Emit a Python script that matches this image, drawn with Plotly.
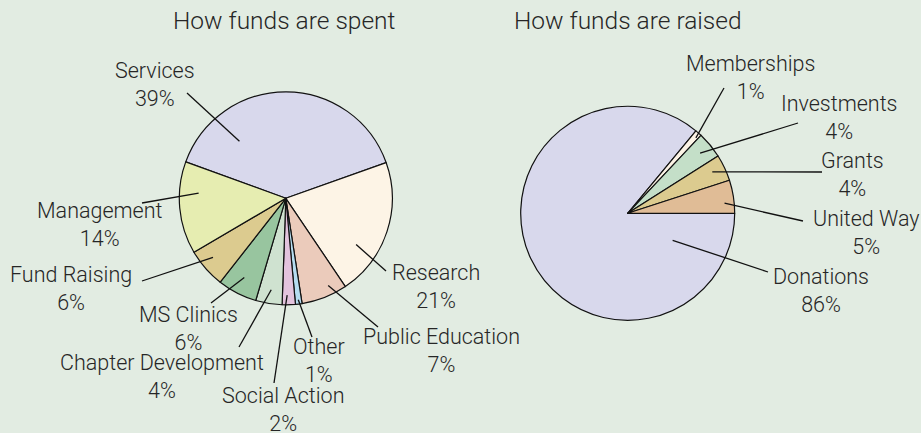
import math
import plotly.graph_objects as go

# ---------------- data ----------------
spent_labels = ["Services", "Research", "Public Education", "Other", "Social Action",
                "Chapter Development", "MS Clinics", "Fund Raising", "Management"]
spent_values = [39, 21, 7, 1, 2, 4, 6, 6, 14]

raised_labels = ["Donations", "Memberships", "Investments", "Grants", "United Way"]
raised_values = [86, 1, 4, 4, 5]

titles = ["How funds are spent", "How funds are raised"]

# ---------------- styles ----------------
spent_colors = ["#d8d8ec", "#fdf4e6", "#ebcbbb", "#b5dcf0", "#e3c3dd",
                "#cfe2d0", "#98c59f", "#dccb8f", "#e6edb1"]
raised_colors = ["#d8d8ec", "#fdf4e6", "#c4dfc8", "#dccb8f", "#e0bc96"]

W, H = 921, 433
BG = "#e2ece2"
TXT = "#262626"
FONT = "Roboto"
FSIZE = 21.5
TSIZE = 24.5

# pie geometry (pixel centre, radius, start angle in standard degrees)
pies = [
    dict(cx=285.8, cy=198.3, r=106.5, start=160.0),
    dict(cx=627.7, cy=213.3, r=107.0, start=0.0),
]

# label layout: (text centre x, block centre y, leader outer end x, y,
#                position within slice 0..1, radial fraction)
spent_layout = {
    "Services":            (155, 84, 187, 93, 0.22, 0.69),
    "Research":            (436, 286, 386, 271, 0.70, 0.79),
    "Public Education":    (441, 350, 378, 327, 0.32, 0.91),
    "Other":               (319, 360, 312, 337, 0.50, 0.96),
    "Social Action":       (283, 409, 274, 383, 0.61, 0.91),
    "Chapter Development": (162, 376, 239, 347, 0.49, 0.87),
    "MS Clinics":          (188, 328, 211, 303, 0.52, 0.84),
    "Fund Raising":        (71, 288, 142, 281, 0.60, 0.88),
    "Management":          (100, 224, 142, 203, 0.67, 0.82),
}
raised_layout = {
    "Donations":   (821, 290, 768, 272, 0.10, 0.49),
    "Memberships": (750, 77, 724, 88, 0.70, 0.95),
    "Investments": (839, 117, 798, 123, 0.49, 0.88),
    "Grants":      (852, 175, 822, 172, 0.44, 0.88),
    "United Way":  (866, 232, 803, 221, 0.67, 0.91),
}
title_pos = [(284, 20), (628, 20)]


def px(x):
    return x / W


def py(y):
    return 1 - y / H


fig = go.Figure()
shapes = []
annotations = []

for pie, labels, values, colors, lay in [
    (pies[0], spent_labels, spent_values, spent_colors, spent_layout),
    (pies[1], raised_labels, raised_values, raised_colors, raised_layout),
]:
    cx, cy, r = pie["cx"], pie["cy"], pie["r"]
    fig.add_trace(go.Pie(
        labels=labels, values=values, sort=False, direction="clockwise",
        rotation=90 - pie["start"],
        marker=dict(colors=colors, line=dict(color="#111111", width=1.2)),
        textinfo="none", hoverinfo="label+percent", showlegend=False,
        domain=dict(x=[px(cx - r), px(cx + r)], y=[py(cy + r), py(cy - r)]),
    ))
    total = sum(values)
    ang = pie["start"]
    for lab, val in zip(labels, values):
        span = 360.0 * val / total
        tx, ty, ox, oy, frac, rf = lay[lab]
        a = math.radians(ang - frac * span)
        ix = cx + rf * r * math.cos(a)
        iy = cy - rf * r * math.sin(a)
        shapes.append(dict(type="line", xref="paper", yref="paper",
                           x0=px(ox), y0=py(oy), x1=px(ix), y1=py(iy),
                           line=dict(color="#111111", width=1.3)))
        pct = round(100.0 * val / total)
        annotations.append(dict(
            text=f"{lab}<br>{pct}%", x=px(tx), y=py(ty), xref="paper", yref="paper",
            xanchor="center", yanchor="middle", showarrow=False, align="center",
            font=dict(family=FONT, size=FSIZE, color=TXT, weight=300)))
        ang -= span

for t, (tx, ty) in zip(titles, title_pos):
    annotations.append(dict(
        text=t, x=px(tx), y=py(ty), xref="paper", yref="paper",
        xanchor="center", yanchor="middle", showarrow=False,
        font=dict(family=FONT, size=TSIZE, color=TXT, weight=300)))

fig.update_layout(
    width=W, height=H, autosize=False,
    margin=dict(l=0, r=0, t=0, b=0),
    paper_bgcolor=BG, plot_bgcolor=BG,
    shapes=shapes, annotations=annotations,
)

fig.write_html("out.html")
